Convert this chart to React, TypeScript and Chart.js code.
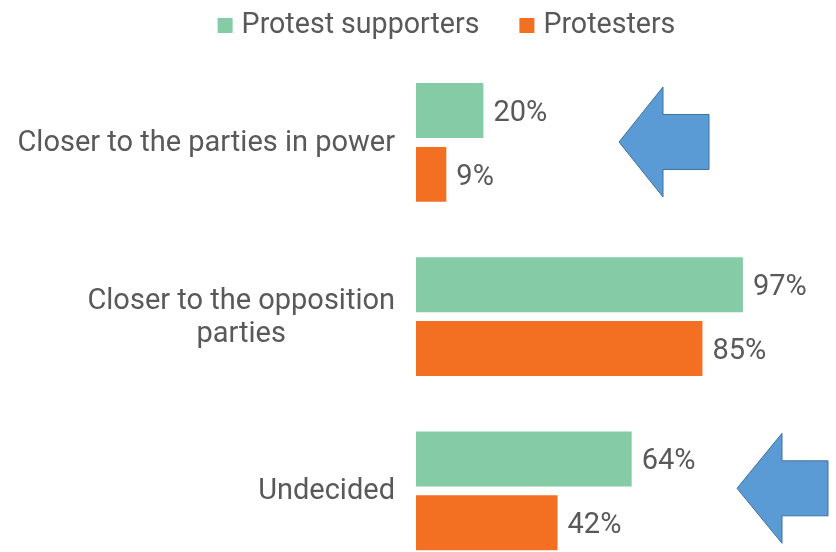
import React, { useEffect, useRef } from "react";
import { Chart, registerables } from "chart.js";

Chart.register(...registerables);

// ---- data ----
const categories: (string | string[])[] = [
  "Closer to the parties in power",
  ["Closer to the opposition", "parties"],
  "Undecided",
];
const seriesNames = ["Protest supporters", "Protesters"];
const supporters = [20, 97, 64];
const protesters = [9, 85, 42];
const arrowCategories = [0, 2];

// ---- style ----
const COLORS = ["#85CCA6", "#F37022"];
const TEXT = "#595959";
const FONT = "Roboto, 'Noto Sans', sans-serif";
const FS = 29;
const LEGEND_FS = 28.6;
const ARROW_STYLE = [
  { tipX: 619, backX: 663, rightX: 709, dy: -0.5 },
  { tipX: 737, backX: 782, rightX: 828, dy: -2.5 },
];

const overlayPlugin = {
  id: "overlay",
  afterDatasetsDraw(chart: any) {
    const ctx: CanvasRenderingContext2D = chart.ctx;
    const yScale = chart.scales.y;
    const area = chart.chartArea;
    ctx.save();
    ctx.font = `${FS}px ${FONT}`;
    ctx.fillStyle = TEXT;
    ctx.textBaseline = "alphabetic";

    // value labels
    chart.data.datasets.forEach((ds: any, di: number) => {
      const meta = chart.getDatasetMeta(di);
      meta.data.forEach((bar: any, i: number) => {
        ctx.textAlign = "left";
        ctx.fillText(`${ds.data[i]}%`, bar.x + 10, bar.y + 10.5);
      });
    });

    // category labels
    const right = area.left - 21;
    const lh = 33;
    categories.forEach((cat, i) => {
      const lines = Array.isArray(cat) ? cat : [cat];
      const cy = yScale.getPixelForValue(i);
      const firstBase = cy + 8.5 - ((lines.length - 1) * lh) / 2;
      const maxW = Math.max(...lines.map((l) => ctx.measureText(l).width));
      lines.forEach((l, k) => {
        if (lines.length > 1) {
          ctx.textAlign = "center";
          ctx.fillText(l, right - maxW / 2, firstBase + k * lh);
        } else {
          ctx.textAlign = "right";
          ctx.fillText(l, right, firstBase);
        }
      });
    });

    // legend
    ctx.font = `${LEGEND_FS}px ${FONT}`;
    const box = 15;
    const gapBoxText = 9;
    const gapItems = 40;
    const widths = seriesNames.map((n) => ctx.measureText(n).width);
    const total =
      widths.reduce((a, b) => a + b, 0) + seriesNames.length * (box + gapBoxText) + gapItems * (seriesNames.length - 1);
    let x = 446.5 - total / 2;
    const base = 33;
    seriesNames.forEach((n, i) => {
      ctx.fillStyle = COLORS[i];
      ctx.fillRect(x, 18, box, box);
      x += box + gapBoxText;
      ctx.fillStyle = TEXT;
      ctx.textAlign = "left";
      ctx.fillText(n, x, base);
      x += widths[i] + gapItems;
    });

    // arrows
    arrowCategories.forEach((ci, k) => {
      const s = ARROW_STYLE[k];
      const cy = yScale.getPixelForValue(ci) + s.dy;
      const headH = 55;
      const shaftH = 27.5;
      ctx.beginPath();
      ctx.moveTo(s.tipX, cy);
      ctx.lineTo(s.backX, cy - headH);
      ctx.lineTo(s.backX, cy - shaftH);
      ctx.lineTo(s.rightX, cy - shaftH);
      ctx.lineTo(s.rightX, cy + shaftH);
      ctx.lineTo(s.backX, cy + shaftH);
      ctx.lineTo(s.backX, cy + headH);
      ctx.closePath();
      ctx.fillStyle = "#5B9BD5";
      ctx.fill();
      ctx.lineWidth = 1;
      ctx.strokeStyle = "#41719C";
      ctx.stroke();
    });

    ctx.restore();
  },
};

export default function App() {
  const ref = useRef<HTMLCanvasElement | null>(null);

  useEffect(() => {
    let chart: Chart | null = null;
    let cancelled = false;
    const make = () => {
      if (cancelled || !ref.current) return;
      chart = new Chart(ref.current, {
        type: "bar",
        data: {
          labels: categories as any,
          datasets: [
            {
              label: seriesNames[0],
              data: supporters,
              backgroundColor: COLORS[0],
              categoryPercentage: 0.7325,
              barPercentage: 0.862,
            },
            {
              label: seriesNames[1],
              data: protesters,
              backgroundColor: COLORS[1],
              categoryPercentage: 0.7325,
              barPercentage: 0.862,
            },
          ],
        },
        options: {
          indexAxis: "y",
          animation: false,
          responsive: false,
          layout: { padding: { top: 55.4, bottom: 2.1, left: 416, right: 83 } },
          plugins: {
            legend: { display: false },
            tooltip: { enabled: false },
          },
          scales: {
            x: { display: false, min: 0, max: 100 },
            y: { display: false },
          },
        },
        plugins: [overlayPlugin],
      });
    };
    const fontsReady = (document as any).fonts?.load
      ? (document as any).fonts.load(`${FS}px Roboto`).catch(() => null)
      : Promise.resolve();
    fontsReady.then(make);
    return () => {
      cancelled = true;
      if (chart) chart.destroy();
    };
  }, []);

  return (
    <div
      style={{
        position: "absolute",
        left: 0,
        top: 0,
        width: 836,
        height: 552,
        overflow: "hidden",
        background: "#ffffff",
      }}
    >
      <canvas ref={ref} width={836} height={580} style={{ display: "block" }} />
    </div>
  );
}
